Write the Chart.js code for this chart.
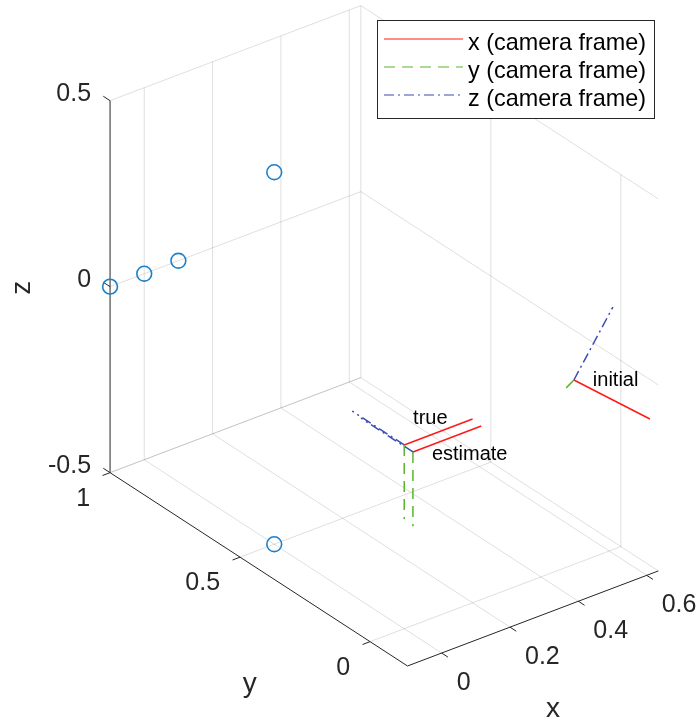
<!DOCTYPE html>
<html><head><meta charset="utf-8">
<style>html,body{margin:0;padding:0;background:#fff;overflow:hidden}#wrap{width:697px;height:721px}</style>
<script src="https://cdn.jsdelivr.net/npm/chart.js@4.4.1/dist/chart.umd.min.js"></script>
</head><body><div id="wrap"><canvas id="c" width="697" height="721"></canvas></div>
<script>
// ---------------- data (world coordinates) ----------------
const xTicks = [0, 0.2, 0.4, 0.6];
const yTicks = [0, 0.5, 1];
const zTicks = [-0.5, 0, 0.5];
const xTickLabels = ['0', '0.2', '0.4', '0.6'];
const yTickLabels = ['0', '0.5', '1'];
const zTickLabels = ['-0.5', '0', '0.5'];
const xLimits = [-0.1, 0.634];
const yLimits = [-0.144, 1.0];
const zLimits = [-0.5, 0.5];

// world points (blue circles)
const pointsX = [-0.1, 0, 0.1, 0, 0];
const pointsY = [1, 1, 1, 0.5, 0.5];
const pointsZ = [0, 0, 0, 0.5, -0.5];

// camera frames
const frameNames = ['true', 'estimate', 'initial'];
const frameOrigin = [[0, 0, -0.006], [0.011, -0.019, -0.020], [0.492, -0.006, 0]];
const frameAxisX = [[0.2, 0, 0], [0.2, 0, 0], [0.1134, -0.1433, -0.0792]];
const frameAxisY = [[0, 0, -0.2], [0, 0, -0.2], [0.068, 0.119, -0.099]];
const frameAxisZ = [[0, 0.2, 0], [0, 0.2, 0], [0.1234, 0.0122, 0.1477]];
const frameLabelPos = [[0.026, 0, 0.057], [0.081, 0, -0.061], [0.552, 0, -0.026]];
const legendLabels = ['x (camera frame)', 'y (camera frame)', 'z (camera frame)'];

// ---------------- styles ----------------
const RED = '#ff1a1a', GREEN = '#55b82a', BLUE = '#3a4db4', MARK = '#1a80cc';
const GRID = 'rgba(38,38,38,0.15)', AXIS = '#262626';
const DASH = [11, 7], DASHDOT = [10, 4, 2, 4];
const FONT = '"Liberation Sans", Arial, Helvetica, sans-serif';

// orthographic view (MATLAB-like az/el) expressed as a linear map to screen units
const VIEW = { ox: 404.23, oy: 442.71, ex: [341.7, -129.5], ey: [-260, -169], ez: [0, -372] };
function proj(p) {
  return {
    x: VIEW.ox + p[0] * VIEW.ex[0] + p[1] * VIEW.ey[0] + p[2] * VIEW.ez[0],
    y: VIEW.oy + p[0] * VIEW.ex[1] + p[1] * VIEW.ey[1] + p[2] * VIEW.ez[1]
  };
}
const add = (a, b) => [a[0] + b[0], a[1] + b[1], a[2] + b[2]];

const datasets = [];
function line3(a, b, color, width, dash, order) {
  datasets.push({
    data: [proj(a), proj(b)], showLine: true, borderColor: color, borderWidth: width,
    borderDash: dash || [], pointRadius: 0, pointHoverRadius: 0, fill: false, tension: 0, order: order
  });
}
const [x0, x1] = xLimits, [y0, y1] = yLimits, [z0, z1] = zLimits;

// grid: floor, back-left wall (y = ymax), back-right wall (x = xmax)
xTicks.forEach(x => line3([x, y0, z0], [x, y1, z0], GRID, 1, null, 20));
yTicks.forEach(y => line3([x0, y, z0], [x1, y, z0], GRID, 1, null, 20));
xTicks.forEach(x => line3([x, y1, z0], [x, y1, z1], GRID, 1, null, 20));
zTicks.forEach(z => line3([x0, y1, z], [x1, y1, z], GRID, 1, null, 20));
yTicks.forEach(y => line3([x1, y, z0], [x1, y, z1], GRID, 1, null, 20));
zTicks.forEach(z => line3([x1, y0, z], [x1, y1, z], GRID, 1, null, 20));

// axes
line3([x0, y0, z0], [x1, y0, z0], AXIS, 1, null, 10);
line3([x0, y0, z0], [x0, y1, z0], AXIS, 1, null, 10);
line3([x0, y1, z0], [x0, y1, z1], AXIS, 1, null, 10);
// tick marks
const TX = 0.024, TY = 0.022, TZ = 0.026;
xTicks.forEach(x => line3([x, y0, z0], [x, y0 - TX, z0], AXIS, 1, null, 10));
yTicks.forEach(y => line3([x0, y, z0], [x0 - TY, y, z0], AXIS, 1, null, 10));
zTicks.forEach(z => line3([x0, y1, z], [x0, y1 + TZ, z], AXIS, 1, null, 10));

// camera frames
frameNames.forEach((n, i) => {
  const o = frameOrigin[i];
  line3(o, add(o, frameAxisZ[i]), BLUE, 1.5, DASHDOT, 3);
  line3(o, add(o, frameAxisY[i]), GREEN, 1.5, DASH, 3);
  line3(o, add(o, frameAxisX[i]), RED, 1.5, null, 3);
});

// world points
datasets.push({
  data: pointsX.map((x, i) => proj([x, pointsY[i], pointsZ[i]])),
  showLine: false, pointStyle: 'circle', pointRadius: 7.4, pointHoverRadius: 7.4,
  borderColor: MARK, borderWidth: 1.6, backgroundColor: 'rgba(0,0,0,0)', order: 1
});

// ---------------- text + legend plugin ----------------
const textPlugin = {
  id: 'labels3d',
  afterDatasetsDraw(chart) {
    const ctx = chart.ctx, sx = chart.scales.x, sy = chart.scales.y;
    const px = p => { const q = proj(p); return [sx.getPixelForValue(q.x), sy.getPixelForValue(q.y)]; };
    ctx.save();
    ctx.fillStyle = AXIS;
    ctx.textBaseline = 'middle';
    ctx.font = '25px ' + FONT;
    // x tick labels
    ctx.textAlign = 'left';
    xTicks.forEach((x, i) => { const [u, v] = px([x, y0, z0]); ctx.fillText(xTickLabels[i], u + 15, v + 30); });
    // y tick labels
    ctx.textAlign = 'right';
    yTicks.forEach((y, i) => { const [u, v] = px([x0, y, z0]); ctx.fillText(yTickLabels[i], u - 20, v + 26); });
    // z tick labels
    zTicks.forEach((z, i) => { const [u, v] = px([x0, y1, z]); ctx.fillText(zTickLabels[i], u - 19, v - 6.5); });
    // axis labels
    ctx.font = '28px ' + FONT;
    ctx.textAlign = 'center';
    { const [u, v] = px([(x0 + x1) / 2, y0, z0]); ctx.fillText('x', u + 20, v + 91); }
    { const [u, v] = px([x0, (y0 + y1) / 2, z0]); ctx.fillText('y', u - 9, v + 115); }
    { const [u, v] = px([x0, y1, (z0 + z1) / 2]); ctx.save(); ctx.translate(u - 88, v + 1); ctx.rotate(-Math.PI / 2); ctx.fillText('z', 0, 0); ctx.restore(); }
    // frame annotations
    ctx.fillStyle = '#000';
    ctx.font = '20px ' + FONT;
    ctx.textAlign = 'left';
    frameNames.forEach((n, i) => { const [u, v] = px(frameLabelPos[i]); ctx.fillText(n, u, v); });

    // legend box
    const L = 377.5, T = 20.5, W = 277, H = 98;
    ctx.fillStyle = '#fff';
    ctx.fillRect(L, T, W, H);
    ctx.strokeStyle = AXIS; ctx.lineWidth = 1; ctx.setLineDash([]);
    ctx.strokeRect(L, T, W, H);
    const rows = [39, 67, 95], cols = [RED, GREEN, BLUE], dashes = [[], DASH, DASHDOT];
    ctx.font = '23.4px ' + FONT;
    ctx.textAlign = 'left';
    rows.forEach((ry, i) => {
      ctx.strokeStyle = cols[i]; ctx.lineWidth = 1.2; ctx.setLineDash(dashes[i]);
      ctx.beginPath(); ctx.moveTo(384, ry); ctx.lineTo(463, ry); ctx.stroke();
      ctx.fillStyle = '#000';
      ctx.fillText(legendLabels[i], 468, ry + 4.5);
    });
    ctx.restore();
  }
};

new Chart(document.getElementById('c'), {
  type: 'scatter',
  data: { datasets: datasets },
  options: {
    responsive: false, animation: false, devicePixelRatio: 1,
    layout: { padding: 0, autoPadding: false },
    scales: {
      x: { type: 'linear', min: 0, max: 697, display: false },
      y: { type: 'linear', min: 0, max: 721, reverse: true, display: false }
    },
    plugins: { legend: { display: false }, tooltip: { enabled: false } },
    events: []
  },
  plugins: [textPlugin]
});
</script>
</body></html>
